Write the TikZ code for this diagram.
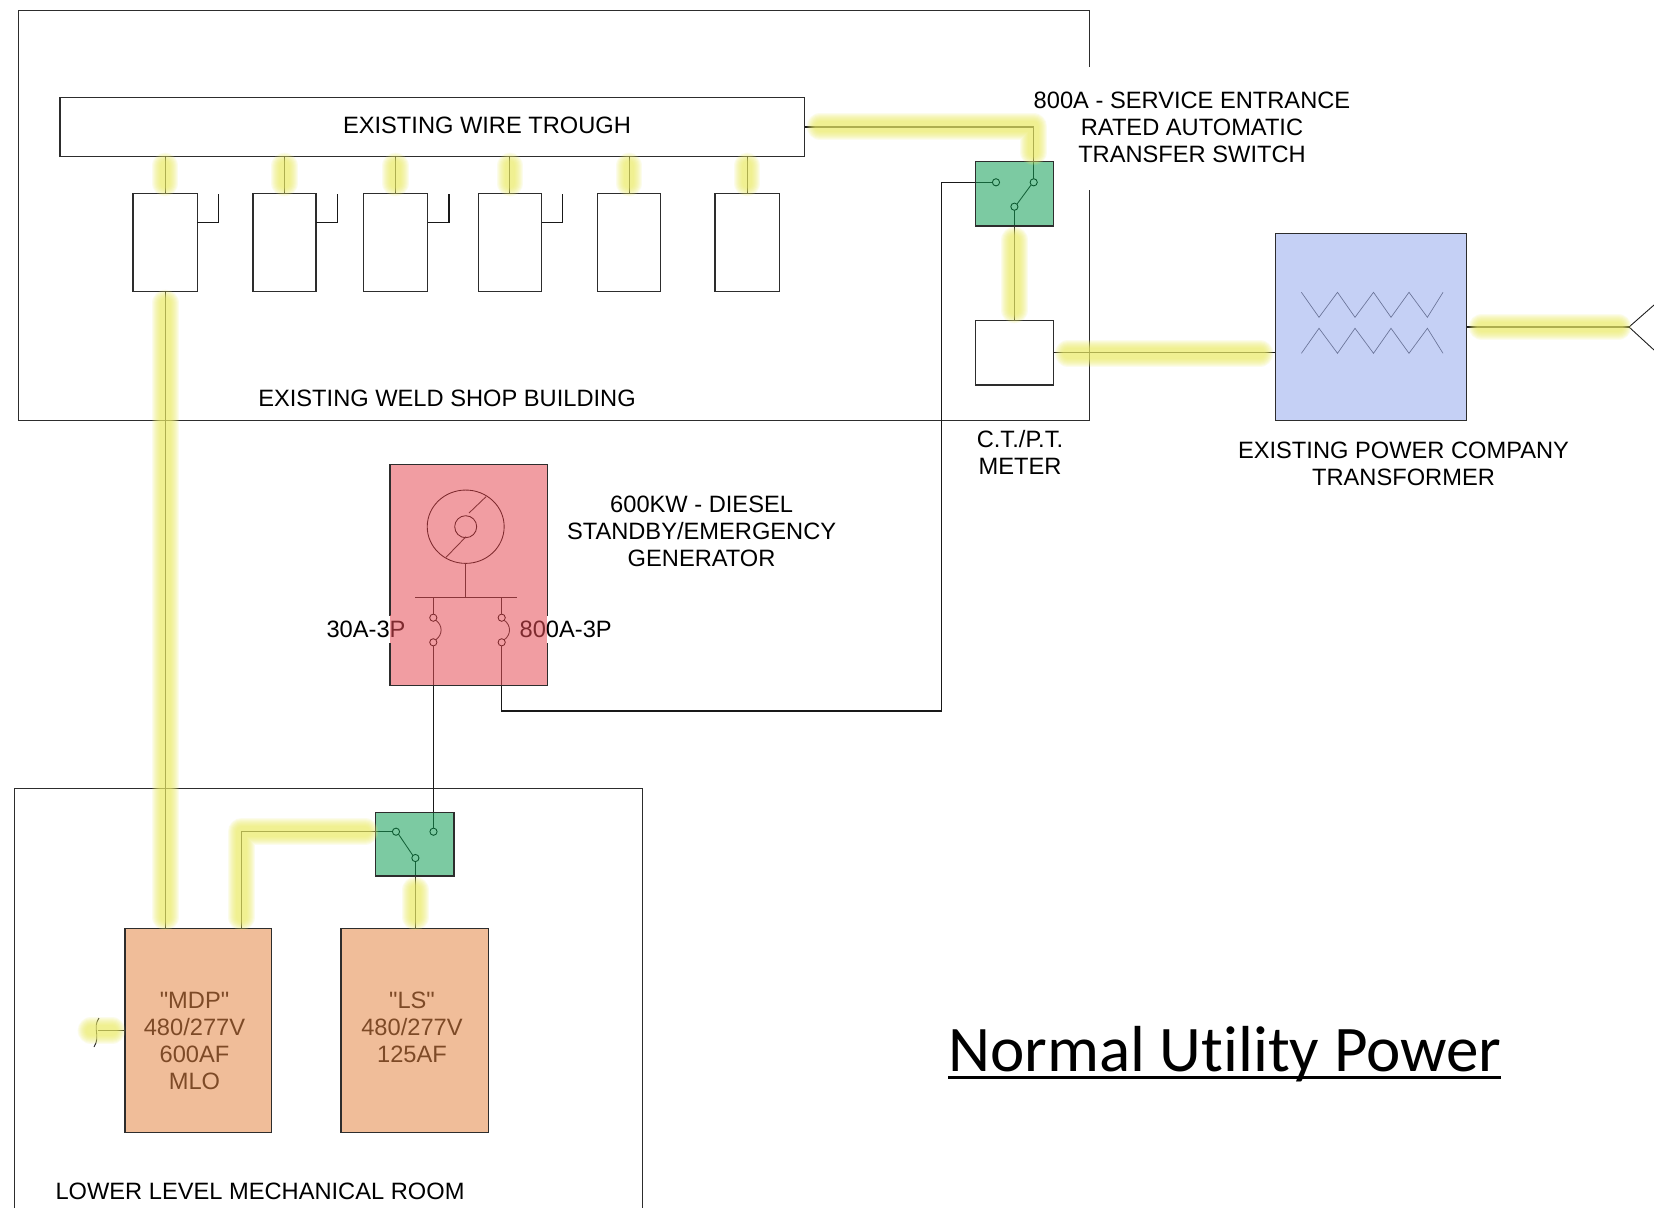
\documentclass[tikz,border=0pt]{standalone}
\usepackage{fontspec}
\setmainfont{Liberation Sans}
\newfontfamily\labfont{Liberation Sans}
\newfontfamily\titlefont[Ligatures=NoCommon]{Carlito}
\usetikzlibrary{shapes.geometric,calc}
\definecolor{glowc}{RGB}{238,238,105}
\definecolor{tintgreen}{RGB}{18,160,86}
\definecolor{tintred}{RGB}{231,78,86}
\definecolor{tintorange}{RGB}{229,135,71}
\definecolor{tintblue}{RGB}{151,170,237}
\definecolor{edge}{RGB}{45,45,45}
\tikzset{
  x=0.75pt,y=-0.75pt,
  span/.style args={#1,#2,#3,#4}{at={({(#1+#3)/2},{(#2+#4)/2})},minimum width={(#3-#1)*0.75pt},minimum height={(#4-#2)*0.75pt}},
  boxn/.style={draw=edge,fill=white,line width=0.85pt,rectangle,inner sep=0pt,outer sep=0pt},
  wire/.style={black!90,line width=0.8pt},
  thinw/.style={black!90,line width=0.65pt},
  contact/.style={circle,draw=black,fill=none,line width=0.65pt,inner sep=0pt,outer sep=0pt,minimum size=5.4pt},
  lab/.style={font=\labfont\fontsize{17.75}{20.2}\selectfont,align=center,inner sep=0pt,outer sep=0pt,text=black},
  tint/.style={fill opacity=.55},
  glow/.style={glowc,line cap=round,line join=round,opacity=.13},
}
\newcommand{\glowpath}[1]{%
  \foreach \w in {20,18.5,17,15.5,14,12.5,11,9.5,8}{\draw[glow,line width=\w pt] #1;}}
\begin{document}
\begin{tikzpicture}
\useasboundingbox (0,0) rectangle (1654,1208);
\fill[white] (0,0) rectangle (1654,1208);
% enclosures
\coordinate (bA) at (1089.4,67);
\coordinate (bB) at (18.4,10.2);
\coordinate (bC) at (18.4,420.7);
\coordinate (bD) at (1089.4,190);
\draw[edge,line width=0.85pt] (bA) |- (bB) |- (bC) -| (bD);
\coordinate (rA) at (14.7,1208);
\coordinate (rB) at (642.7,788.6);
\coordinate (rC) at (642.7,1208);
\draw[edge,line width=0.85pt] (rA) |- (rB) -- (rC);
% boxes
\node[boxn,span={60,97.7,804.7,156.3}] (trough) {};
\node[boxn,span={133,193.3,197.2,291.3}] (b1) {};
\node[boxn,span={253,193.3,316,291.3}] (b2) {};
\node[boxn,span={363.4,193.3,427.6,291.3}] (b3) {};
\node[boxn,span={478.3,193.3,541.5,291.3}] (b4) {};
\node[boxn,span={597.7,193.3,660.4,291.3}] (b5) {};
\node[boxn,span={715,193.3,779.3,291.3}] (b6) {};
\node[boxn,span={975.5,161.7,1053.8,226}] (ats) {};
\node[boxn,span={975.5,320.3,1053.8,385}] (meter) {};
\node[boxn,span={1275.5,233.7,1466.4,420.7}] (xfmr) {};
\node[boxn,span={390,464.3,547.3,685.3}] (gen) {};
\node[boxn,span={375.4,812.3,454,876}] (ats2) {};
\node[boxn,span={125,928.3,271.5,1132.3}] (mdp) {};
\node[boxn,span={341,928.3,488.6,1132.3}] (ls) {};
% text under tints
\node[lab] (twt) at (487,125.5) {EXISTING WIRE TROUGH};
\node[lab] (tws) at (447,398.5) {EXISTING WELD SHOP BUILDING};
\node[lab] (tats) at (1192,127.2) {800A - SERVICE ENTRANCE\\RATED AUTOMATIC\\TRANSFER SWITCH};
\node[lab] (tmet) at (1020,452.5) {C.T./P.T.\\METER};
\node[lab] (txf) at (1403.5,464) {EXISTING POWER COMPANY\\TRANSFORMER};
\node[lab] (tgen) at (701.6,531.5) {600KW - DIESEL\\STANDBY/EMERGENCY\\GENERATOR};
\node[lab,fill=white,minimum height=20pt] (t30) at (366,629.2) {30A-3P};
\node[lab,fill=white,minimum height=20pt] (t800) at (565.7,629.2) {800A-3P};
\node[lab] (tmdp) at (194.5,1040.8) {"MDP"\\480/277V\\600AF\\MLO};
\node[lab] (tls) at (412,1027.5) {"LS"\\480/277V\\125AF};
\node[lab] (troom) at (260,1191) {LOWER LEVEL MECHANICAL ROOM};
\node[font=\titlefont\fontsize{48.8}{56}\selectfont,anchor=base west,inner sep=0pt,outer sep=0pt] (title) at (948,1071) {Normal Utility Power};
\draw[line width=2.4pt] ([yshift=-5pt]title.base west) -- ([yshift=-5pt]title.base east);
% contacts
\node[contact] (cL) at (996,182.3) {};
\node[contact] (cR) at (1033.7,182.3) {};
\node[contact] (cB) at (1014.4,206.7) {};
\node[contact] (dL) at (396,831.7) {};
\node[contact] (dR) at (433.5,831.7) {};
\node[contact] (dB) at (415.4,858) {};
\node[contact] (g1t) at (433.3,617.7) {};
\node[contact] (g1b) at (433.3,642.3) {};
\node[contact] (g2t) at (501.7,617.7) {};
\node[contact] (g2b) at (501.7,642.3) {};
% generator symbol
\node[ellipse,draw=black,line width=0.65pt,inner sep=0pt,outer sep=0pt,minimum width=57.7pt,minimum height=55pt] (rotor) at (465.7,526.7) {};
\node[circle,draw=black,line width=0.65pt,inner sep=0pt,outer sep=0pt,minimum size=16.5pt] (hub) at (465.7,526.7) {};
\coordinate (busL) at (415,597.3);
\coordinate (busR) at (516.7,597.3);
\coordinate (d1a) at (486,496.7);
\coordinate (d1b) at (469,513);
\coordinate (d2a) at (466,536.7);
\coordinate (d2b) at (446,557.3);
\draw[thinw] (d1a) -- (d1b) (d2a) -- (d2b);
\draw[thinw] (rotor.south) -- (rotor.south |- busL);
\draw[wire] (busL) -- (busR);
\draw[thinw] (g1t.north |- busL) -- (g1t.north);
\draw[thinw] (g2t.north |- busL) -- (g2t.north);
\draw[thinw] (g1t.south east) .. controls +(7,5) and +(7,-5) .. (g1b.north east);
\draw[thinw] (g2t.south east) .. controls +(7,5) and +(7,-5) .. (g2b.north east);
% wires
\draw[wire] (g1b.south) -- (dR.north -| g1b.south);
\coordinate (gcA) at (501.7,711);
\coordinate (gcB) at (941.8,711);
\draw[wire] (g2b.south) -- (gcA) -- (gcB) |- (cL.west);
\draw[thinw] (cB.north east) -- (cR.south west);
\draw[thinw] (dL.south east) -- (dB.north west);
\draw[wire] (trough.east) -| (cR.north);
\draw[wire] (cB.south) -- (cB.south |- meter.north);
\coordinate (xin) at (xfmr.west |- meter.east);
\draw[wire] (meter.east) -- (xin);
\coordinate (xout) at (1466.4,327);
\coordinate (svc) at (1629,327);
\coordinate (svcU) at (1654,305);
\coordinate (svcD) at (1654,350);
\draw[wire] (xout) -- (svc);
\draw[thinw] (svcU) -- (svc) -- (svcD);
\foreach \n/\hx in {1/218.6,2/337.5,3/449,4/562.9}{
  \coordinate (h\n) at (\hx,194);
  \coordinate (hy) at (0,222.7);
  \draw[wire] (h\n) |- (b\n.east |- hy);
}
\foreach \n in {1,...,6}{\draw[thinw] (b\n.north |- trough.south) -- (b\n.north);}
\draw[wire] (b1.south) -- (b1.south |- mdp.north);
\coordinate (mdpin) at (241.6,928.3);
\draw[wire] (dL.west) -| (mdpin);
\draw[thinw] (dB.south) -- (dB.south |- ls.north);
\coordinate (stub) at (97.6,1030.7);
\draw[thinw] (stub) -- (stub -| mdp.west);
\coordinate (brkT) at (99,1018);
\coordinate (brkB) at (94,1047);
\draw[thinw] (brkT) .. controls (92,1028) and (101,1036) .. (brkB);
% zigzags
\draw[black!80,line width=0.5pt] (1301.4,292.3) -- (1319,317.3) -- (1337.5,292.3) -- (1355,317.3) -- (1373.5,292.3) -- (1391,317.3) -- (1409,292.3) -- (1427.4,317.3) -- (1443,292.3);
\draw[black!80,line width=0.5pt] (1301.4,353.3) -- (1319,328.3) -- (1337.5,353.3) -- (1355,328.3) -- (1373.5,353.3) -- (1391,328.3) -- (1409,353.3) -- (1427.4,328.3) -- (1443,353.3);
% tints
\fill[tintgreen,tint] (ats.south west) rectangle (ats.north east);
\fill[tintgreen,tint] (ats2.south west) rectangle (ats2.north east);
\fill[tintred,tint] (gen.south west) rectangle (gen.north east);
\fill[tintorange,tint] (mdp.south west) rectangle (mdp.north east);
\fill[tintorange,tint] (ls.south west) rectangle (ls.north east);
\fill[tintblue,tint] (xfmr.south west) rectangle (xfmr.north east);
\draw[edge,line width=0.85pt] (ats.south west) rectangle (ats.north east);
\draw[edge,line width=0.85pt] (ats2.south west) rectangle (ats2.north east);
\draw[edge,line width=0.85pt] (mdp.south west) rectangle (mdp.north east);
\draw[edge,line width=0.85pt] (ls.south west) rectangle (ls.north east);
\draw[edge,line width=0.85pt] (xfmr.south west) rectangle (xfmr.north east);
\draw[edge,line width=0.85pt] (390,615) |- (547.3,464.3) -- (547.3,615) (547.3,643) |- (390,685.3) -- (390,643);
% highlights
\glowpath{(820,126.7) -- (1033.7,126.7) -- (1033.7,152)}
\foreach \n in {1,...,6}{\glowpath{(b\n.north |- 0,166) -- (b\n.north |- 0,183)}}
\glowpath{(165.4,303) -- (165.4,917)}
\glowpath{(1014.4,240) -- (1014.4,310)}
\glowpath{(1068,353.3) -- (1260,353.3)}
\glowpath{(1482,327) -- (1618,327)}
\glowpath{(365,831.7) -- (241.6,831.7) -- (241.6,917)}
\glowpath{(415.4,890) -- (415.4,917)}
\glowpath{(91,1030.7) -- (112,1030.7)}
\end{tikzpicture}
\end{document}
